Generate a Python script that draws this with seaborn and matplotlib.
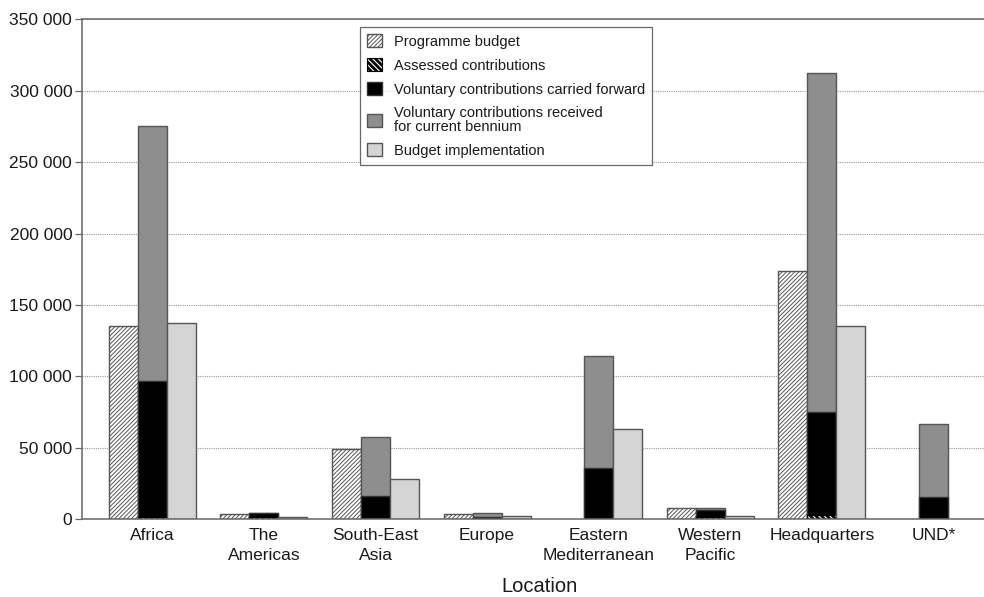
import numpy as np
import pandas as pd
import matplotlib
matplotlib.use("Agg")
import matplotlib as mpl
import matplotlib.pyplot as plt
from matplotlib.patches import Patch
from matplotlib.ticker import FuncFormatter, MultipleLocator
import seaborn as sns

# Funding by location (US$ thousands)
regions = ["Africa", "The\nAmericas", "South-East\nAsia", "Europe",
           "Eastern\nMediterranean", "Western\nPacific", "Headquarters", "UND*"]
programme_budget = [135200, 3800, 49000, 3600, 0, 7900, 173700, 0]
assessed = [2000, 1500, 0, 0, 0, 2000, 3000, 0]
carried_forward = [94700, 2700, 16300, 2000, 35700, 4500, 72000, 15800]
received_current = [178400, 0, 41500, 2500, 78500, 1400, 237400, 50900]
budget_implementation = [137300, 1400, 28000, 2300, 63200, 2300, 135200, 0]

legend_labels = ["Programme budget", "Assessed contributions",
                 "Voluntary contributions carried forward",
                 "Voluntary contributions received\nfor current bennium",
                 "Budget implementation"]

slots = ["budget", "funding", "implementation"]

sns.set_style("white")
plt.rcParams["font.family"] = ["Liberation Sans", "DejaVu Sans"]
plt.rcParams["hatch.linewidth"] = 0.7

TEXT = "#1a1a1a"
EDGE = "#555555"
THICK_HATCH = 2.0

fig = plt.figure(figsize=(9.84, 5.97), dpi=100)
ax = fig.add_axes([0.0833, 0.130, 0.93, 0.838])


def layer(values, slot):
    df = pd.DataFrame({"Location": regions, "value": values, "slot": slot})
    return df[df["value"] > 0]


def draw(df, hatch_lw=None, **style):
    n0 = len(ax.patches)
    sns.barplot(data=df, x="Location", y="value", hue="slot",
                hue_order=slots, order=regions, width=0.78, dodge=True,
                palette={s: "white" for s in slots}, errorbar=None,
                legend=False, ax=ax)
    for p in ax.patches[n0:]:
        p.set(**style)
        if hatch_lw is not None and hasattr(p, "set_hatch_linewidth"):
            p.set_hatch_linewidth(hatch_lw)


pb_style = dict(facecolor="white", edgecolor=EDGE, hatch="////////", linewidth=1.0)
as_style = dict(facecolor="white", edgecolor="black", hatch="\\" * 6, linewidth=0.8)
cf_style = dict(facecolor="black", edgecolor="#333333", linewidth=1.0)
rc_style = dict(facecolor="#8e8e8e", edgecolor=EDGE, linewidth=1.0)
bi_style = dict(facecolor="#d5d5d5", edgecolor=EDGE, linewidth=1.0)

# Programme budget (left bar of each group)
draw(layer(programme_budget, "budget"), **pb_style)

# Funding (middle bar): stacked totals drawn from the top layer down
a = np.array(assessed)
cf = np.array(carried_forward)
rc = np.array(received_current)
draw(layer(a + cf + rc, "funding"), **rc_style)
draw(layer(a + cf, "funding"), **cf_style)
with mpl.rc_context({"hatch.linewidth": THICK_HATCH}):
    draw(layer(a, "funding"), hatch_lw=THICK_HATCH, **as_style)

# Budget implementation (right bar)
draw(layer(budget_implementation, "implementation"), **bi_style)

# Axes styling
ax.set_xlim(-0.63, 7.57)
ax.set_ylim(0, 350000)
ax.yaxis.set_major_locator(MultipleLocator(50000))
ax.yaxis.set_major_formatter(FuncFormatter(lambda v, _: f"{v:,.0f}".replace(",", " ")))
ax.set_axisbelow(True)
ax.yaxis.grid(True, linestyle=(0, (1, 1)), color="#9a9a9a", linewidth=0.8)
ax.xaxis.grid(False)

for side in ["left", "bottom", "top"]:
    ax.spines[side].set_visible(True)
    ax.spines[side].set_color("#666666")
    ax.spines[side].set_linewidth(1.1)
ax.spines["right"].set_visible(False)

ax.tick_params(axis="y", which="major", left=True, length=5, width=0.9,
               color="#666666", labelsize=12.5, labelcolor=TEXT, pad=2)
ax.tick_params(axis="x", which="major", bottom=False, length=0,
               labelsize=12.5, labelcolor=TEXT, pad=6)
for lbl in ax.get_xticklabels():
    lbl.set_linespacing(1.45)

ax.set_ylabel("")
ax.set_xlabel("Location", fontsize=14.5, color=TEXT, labelpad=10)

# Legend
handles = [Patch(**pb_style), Patch(**as_style), Patch(**cf_style),
           Patch(**rc_style), Patch(**bi_style)]
leg = ax.legend(handles, legend_labels, loc="upper left",
                bbox_to_anchor=(0.304, 0.984), borderaxespad=0,
                fontsize=10.5, frameon=True, fancybox=False,
                handlelength=1.0, handleheight=1.0, handletextpad=0.8,
                labelspacing=0.65, borderpad=0.5)
leg.get_frame().set_edgecolor("#444444")
leg.get_frame().set_linewidth(0.9)
for t in leg.get_texts():
    t.set_color(TEXT)
    t.set_linespacing(0.95)
legend_patches = leg.get_patches()
if hasattr(legend_patches[1], "set_hatch_linewidth"):
    legend_patches[1].set_hatch_linewidth(THICK_HATCH)

fig.savefig("out.png", dpi=100, facecolor="white")
